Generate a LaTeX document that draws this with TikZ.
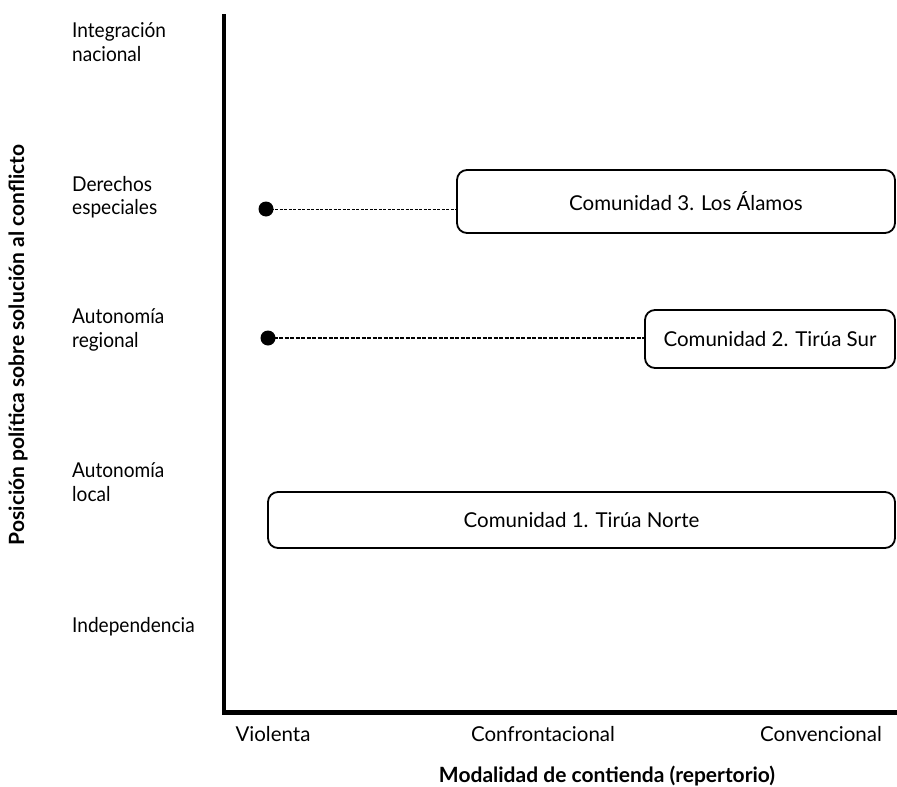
\documentclass[tikz,border=0pt]{standalone}
\usepackage{fontspec}
\setmainfont{Lato}
\newfontfamily\lblfont{Lato}[FakeStretch=0.93]
\begin{document}
\begin{tikzpicture}[x=1pt,y=-1pt,
  lbl/.style={anchor=west,align=left,font=\lblfont\fontsize{20.5}{23.5}\selectfont,inner sep=0pt},
  tick/.style={font=\fontsize{20.5}{24}\selectfont,inner sep=0pt},
  comm/.style={draw,line width=1.8pt,rounded corners=10pt,font=\fontsize{20.5}{24}\selectfont,inner sep=0pt},
  ttl/.style={font=\bfseries\fontsize{21}{24}\selectfont,inner sep=0pt},
  axis/.style={line width=4.5pt},
  dot/.style={circle,fill=black,inner sep=0pt,minimum size=15pt},
  link/.style={dashed,line width=1pt,dash pattern=on 3pt off 1.5pt}]
\useasboundingbox (0,0) rectangle (897,787);
% axes
\coordinate (top) at (224,14);
\coordinate (origin) at (224,712.5);
\coordinate (right) at (897,712.5);
\draw[axis] (top) -- (origin) -- (right);
% y labels
\node[lbl] (l5) at (72,42) {Integración\\nacional};
\node[lbl] (l4) at (72,197) {Derechos\\especiales};
\node[lbl] (l3) at (72,330) {Autonomía\\regional};
\node[lbl] (l2) at (72,482) {Autonomía\\local};
\node[lbl] (l1) at (72,627) {Independencia};
\node[ttl,rotate=90] (ytitle) at (18,345) {Posición política sobre solución al conflicto};
% x labels
\node[tick] (x1) at (273,734) {Violenta};
\node[tick] (x2) at (543,734) {Confrontacional};
\node[tick] (x3) at (821,734) {Convencional};
\node[ttl] (xtitle) at (607,776) {Modalidad de contienda (repertorio)};
% communities
\node[comm,minimum width=438pt,minimum height=63pt] (c3) at (676,201.5) {\hspace*{20pt}Comunidad 3. Los Álamos};
\node[comm,minimum width=250pt,minimum height=58pt] (c2) at (770,339) {Comunidad 2. Tirúa Sur};
\node[comm,minimum width=627pt,minimum height=56pt] (c1) at (581.5,520) {Comunidad 1. Tirúa Norte};
\node[dot] (d3) at (266,209) {};
\node[dot] (d2) at (268,338) {};
\draw[link] (d3.center) -- (d3.center -| c3.west);
\draw[link,line width=1.3pt,dash pattern=on 4pt off 1.5pt] (d2.center) -- (d2.center -| c2.west);
\end{tikzpicture}
\end{document}
